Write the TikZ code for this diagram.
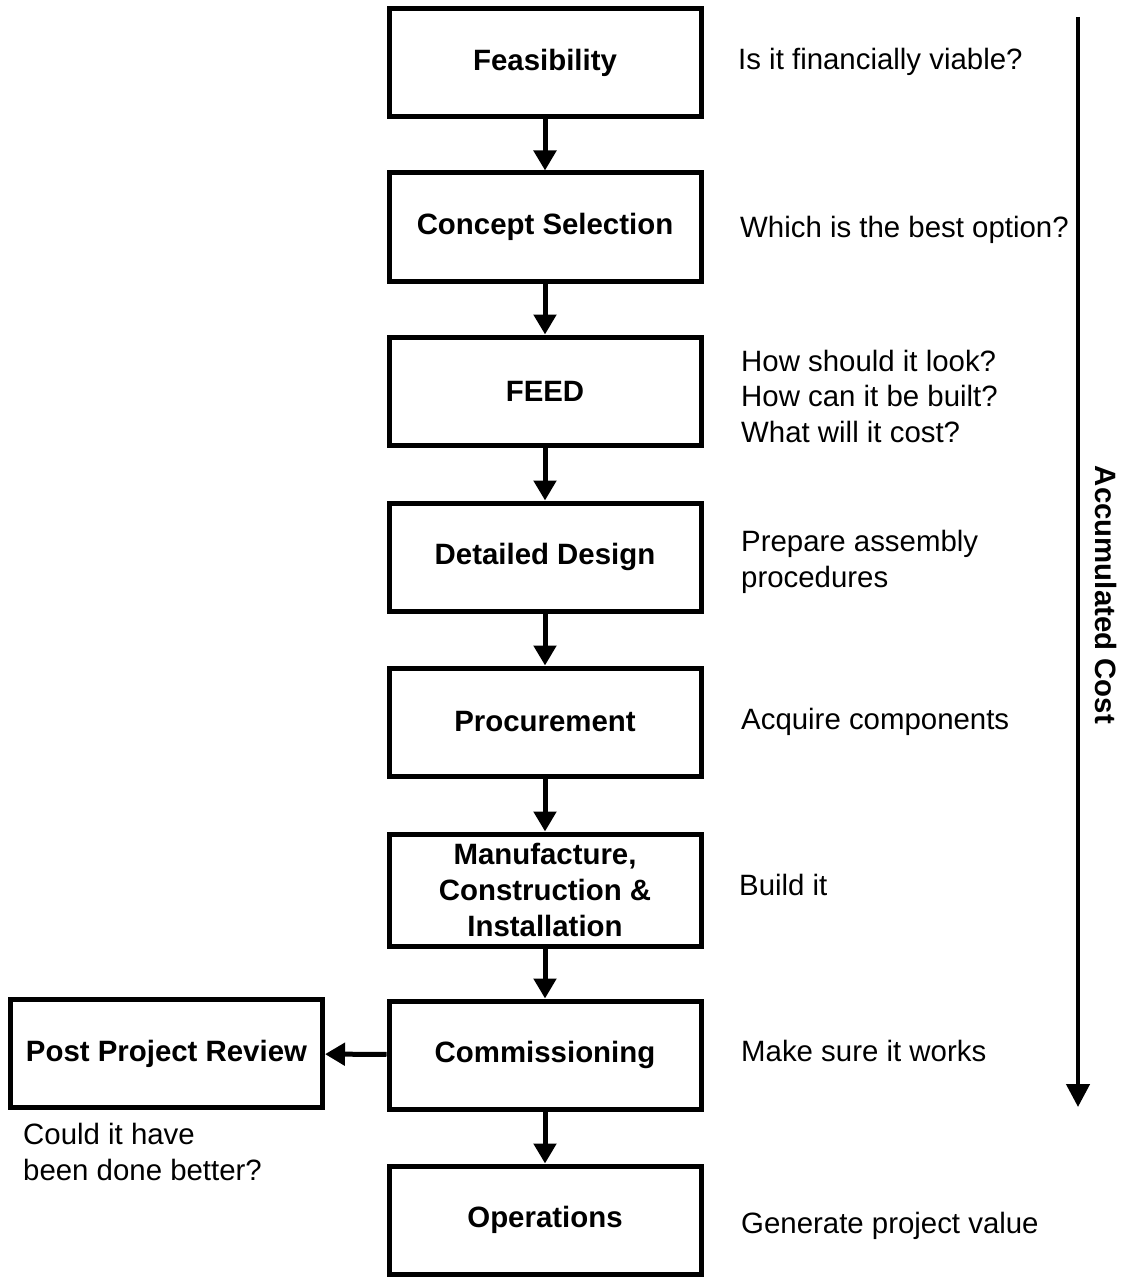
\documentclass[tikz,border=0pt]{standalone}
\usepackage{fontspec}
\setmainfont{Liberation Sans}
\usetikzlibrary{arrows.meta}
\begin{document}
\begin{tikzpicture}[x=1pt,y=-1pt,
  stage/.style={draw, line width=5pt, minimum width=312pt, minimum height=108pt,
    inner sep=0pt, align=center, font=\fontsize{29.4}{36}\selectfont\bfseries},
  note/.style={anchor=west, inner sep=0pt, align=left,
    font=\fontsize{29.4}{35.5}\selectfont},
  flow/.style={line width=5pt, -{Triangle[width=22pt,length=20pt]}},
  costarrow/.style={line width=4.5pt, -{Triangle[width=23pt,length=23pt]}}
]
\useasboundingbox (0,0) rectangle (1128,1281);

% main stages
\node[stage] (feas) at (545,63) {Feasibility};
\node[stage] (conc) at (545,227) {Concept Selection};
\node[stage] (feed) at (545,391) {FEED};
\node[stage] (det)  at (545,557) {Detailed Design};
\node[stage] (proc) at (545,722) {Procurement};
\node[stage, minimum height=112pt] (manu) at (545,890) {Manufacture,\\Construction \&\\Installation};
\node[stage] (comm) at (545,1055) {Commissioning};
\node[stage] (oper) at (545,1220) {Operations};
\node[stage] (ppr)  at (166.5,1053.5) {Post Project Review};

% connectors
\draw[flow] (feas) -- (conc);
\draw[flow] (conc) -- (feed);
\draw[flow] (feed) -- (det);
\draw[flow] (det) -- (proc);
\draw[flow] (proc) -- (manu);
\draw[flow] (manu) -- (comm);
\draw[flow] (comm) -- (oper);
\draw[flow] (comm) -- (ppr);

% questions beside each stage
\node[note] (q1) at (738,62) {Is it financially viable?};
\node[note] (q2) at (740,230) {Which is the best option?};
\node[note] (q3) at (741,396) {How should it look?\\How can it be built?\\What will it cost?};
\node[note] (q4) at (741,562) {Prepare assembly\\procedures};
\node[note] (q5) at (741,722) {Acquire components};
\node[note] (q6) at (739,885) {Build it};
\node[note] (q7) at (741,1051) {Make sure it works};
\node[note] (q8) at (741,1226) {Generate project value};
\node[note] (q9) at (23,1152) {Could it have\\been done better?};

% accumulated cost axis
\coordinate (ctop) at (1078,17);
\coordinate (cbot) at (1078,1107);
\draw[costarrow] (ctop) -- (cbot);
\node[rotate=-90, inner sep=0pt, font=\fontsize{29.4}{36}\selectfont\bfseries] (cost) at (1106,595) {Accumulated Cost};
\end{tikzpicture}
\end{document}
